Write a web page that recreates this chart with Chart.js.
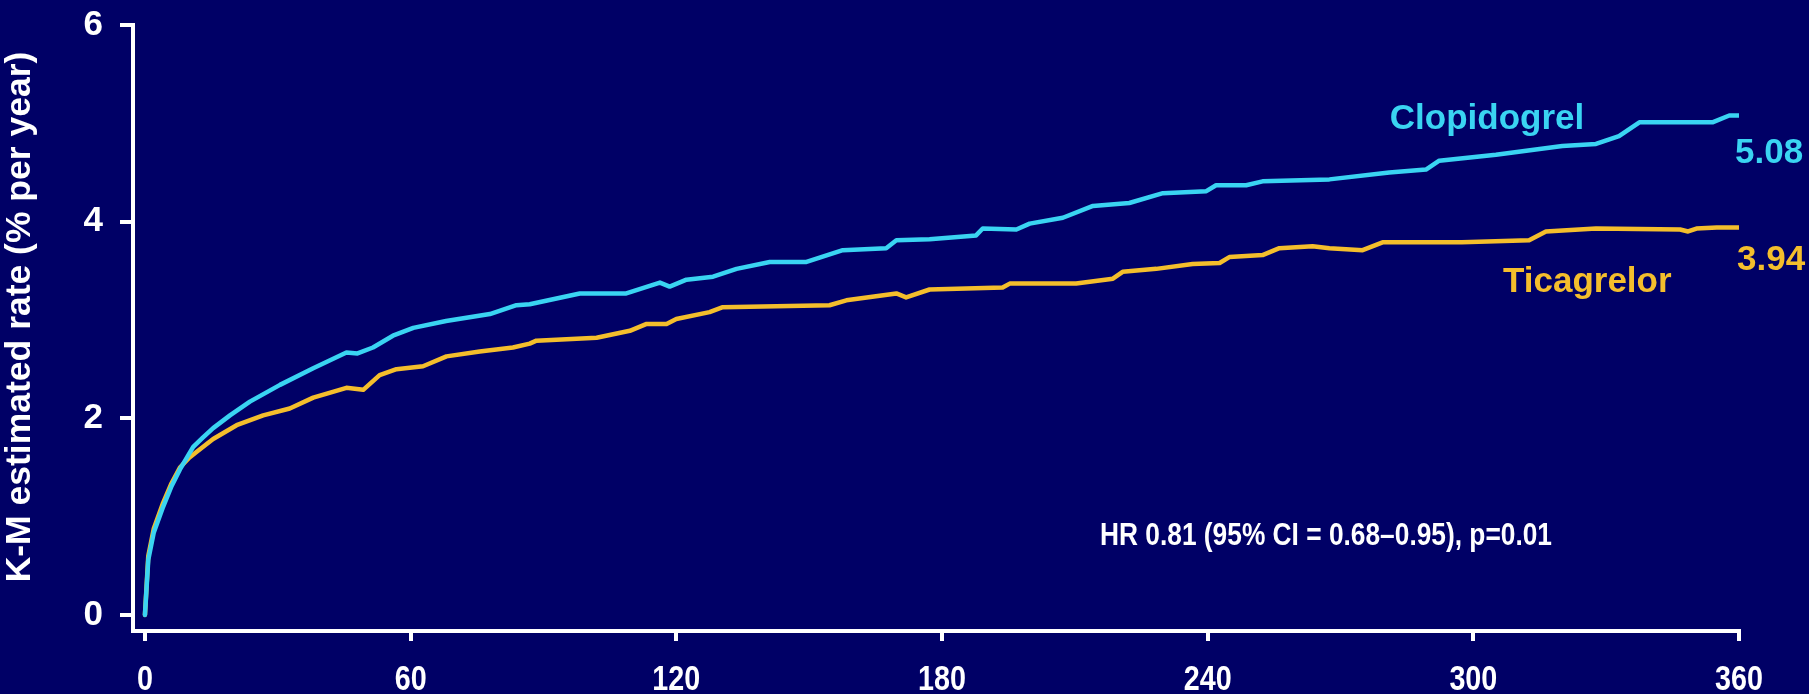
<!DOCTYPE html>
<html>
<head>
<meta charset="utf-8">
<script src="https://cdn.jsdelivr.net/npm/chart.js@4/dist/chart.umd.min.js"></script>
<style>
  html, body { margin: 0; padding: 0; background: #000066; }
  #wrap { width: 1809px; height: 694px; }
</style>
</head>
<body>
<div id="wrap"><canvas id="km" width="1809" height="694"></canvas></div>
<script>
// Kaplan–Meier estimated event rate, days since randomisation
const clopidogrelDays = [0, 0.75, 2, 4.1, 6, 7.9, 10.9, 13, 15.4, 19.2, 23.7, 30.5, 38, 45.5, 48, 51.5, 56, 60.6, 68, 77.9, 83.9, 86.9, 98.2, 108.7, 116.3, 118.5, 122.3, 128.3, 133.6, 141.1, 149.4, 157.6, 167.4, 169.7, 177.2, 187.7, 189.2, 196.8, 199.8, 207.3, 214.1, 222.3, 229.9, 239.7, 241.9, 248.7, 252.4, 267.5, 281, 289.3, 292.3, 305.1, 320.1, 327.7, 332.9, 337.5, 354, 357.8, 360];
const clopidogrelRate = [0, 0.56, 0.84, 1.10, 1.31, 1.48, 1.71, 1.80, 1.90, 2.03, 2.17, 2.34, 2.51, 2.67, 2.66, 2.72, 2.84, 2.92, 2.99, 3.06, 3.15, 3.16, 3.27, 3.27, 3.38, 3.34, 3.41, 3.44, 3.52, 3.59, 3.59, 3.71, 3.73, 3.81, 3.82, 3.86, 3.93, 3.92, 3.98, 4.04, 4.16, 4.19, 4.29, 4.31, 4.37, 4.37, 4.41, 4.43, 4.50, 4.53, 4.62, 4.68, 4.77, 4.79, 4.87, 5.01, 5.01, 5.08, 5.08];

const ticagrelorDays = [0, 0.75, 2, 4.1, 6, 7.9, 10, 11.7, 15.4, 20.7, 26.7, 32.7, 38, 45.5, 49.3, 53, 56.8, 62.8, 68.1, 75.6, 83.1, 86.9, 88.4, 102, 109.5, 113.3, 117.8, 120, 127.5, 130.5, 154.6, 158.4, 169.7, 171.9, 177.2, 193.7, 195.3, 210.3, 218.6, 220.8, 228.4, 236.6, 242.7, 244.9, 252.4, 256.2, 263.7, 267.5, 275, 279.5, 297.4, 312.6, 316.4, 327.7, 346.7, 348.5, 350.4, 355, 360];
const ticagrelorRate = [0, 0.60, 0.88, 1.14, 1.34, 1.50, 1.60, 1.66, 1.79, 1.93, 2.03, 2.10, 2.21, 2.31, 2.29, 2.44, 2.50, 2.53, 2.63, 2.68, 2.72, 2.76, 2.79, 2.82, 2.89, 2.96, 2.96, 3.01, 3.08, 3.13, 3.15, 3.20, 3.27, 3.23, 3.31, 3.33, 3.37, 3.37, 3.42, 3.49, 3.52, 3.57, 3.58, 3.64, 3.66, 3.73, 3.75, 3.73, 3.71, 3.79, 3.79, 3.81, 3.90, 3.93, 3.92, 3.90, 3.93, 3.94, 3.94];

const xTicks = [0, 60, 120, 180, 240, 300, 360];
const yTicks = [0, 2, 4, 6];
const seriesNames = ['Clopidogrel', 'Ticagrelor'];
const endValues = ['5.08', '3.94'];
const statsText = 'HR 0.81 (95% CI = 0.68\u20130.95), p=0.01';
const yTitle = 'K-M estimated rate (% per year)';

const CYAN = '#3ad4f2';
const GOLD = '#f4be2c';
const WHITE = '#ffffff';
const SANS = "'Liberation Sans', Arial, Helvetica, sans-serif";

const toPoints = (xs, ys) => xs.map((x, i) => ({ x: x, y: ys[i] }));

// condensed bold text, squeezed horizontally by factor sx
function narrowText(ctx, text, x, y, size, sx, align) {
  ctx.save();
  ctx.font = 'bold ' + size + 'px ' + SANS;
  ctx.textAlign = align;
  ctx.translate(x, y);
  ctx.scale(sx, 1);
  ctx.fillText(text, 0, 0);
  ctx.restore();
}

// day labels under the x axis, y-axis title, curve labels and the hazard-ratio note
const annotations = {
  id: 'annotations',
  afterDraw(chart) {
    const ctx = chart.ctx;
    const xs = chart.scales.x;
    ctx.save();
    ctx.textBaseline = 'alphabetic';

    ctx.fillStyle = WHITE;
    xTicks.forEach(v => narrowText(ctx, String(v), xs.getPixelForValue(v), 690, 35, 0.82, 'center'));

    ctx.save();
    ctx.font = 'bold 35.5px ' + SANS;
    ctx.textAlign = 'center';
    ctx.textBaseline = 'middle';
    ctx.translate(20, 317);
    ctx.rotate(-Math.PI / 2);
    ctx.fillText(yTitle, 0, 0);
    ctx.restore();

    ctx.font = 'bold 35px ' + SANS;
    ctx.fillStyle = CYAN;
    ctx.textAlign = 'center';
    ctx.fillText(seriesNames[0], 1487, 129);
    ctx.textAlign = 'left';
    ctx.fillText(endValues[0], 1735, 163);

    ctx.fillStyle = GOLD;
    ctx.fillText(seriesNames[1], 1503, 292);
    ctx.fillText(endValues[1], 1737, 270);

    ctx.fillStyle = WHITE;
    ctx.font = 'bold 31px ' + SANS;
    const w = ctx.measureText(statsText).width;
    narrowText(ctx, statsText, 1100, 545, 31, 452 / w, 'left');
    ctx.restore();
  }
};

new Chart(document.getElementById('km'), {
  type: 'line',
  data: {
    datasets: [
      {
        label: seriesNames[0],
        data: toPoints(clopidogrelDays, clopidogrelRate),
        borderColor: CYAN,
        borderWidth: 4.5,
        pointRadius: 0,
        tension: 0,
        borderJoinStyle: 'round',
        borderCapStyle: 'round'
      },
      {
        label: seriesNames[1],
        data: toPoints(ticagrelorDays, ticagrelorRate),
        borderColor: GOLD,
        borderWidth: 4.5,
        pointRadius: 0,
        tension: 0,
        borderJoinStyle: 'round',
        borderCapStyle: 'round'
      }
    ]
  },
  options: {
    responsive: false,
    animation: false,
    devicePixelRatio: 1,
    layout: { padding: { left: 0, top: 25, right: 70, bottom: 0 } },
    plugins: {
      legend: { display: false },
      tooltip: { enabled: false }
    },
    scales: {
      x: {
        type: 'linear',
        min: -2.7,
        max: 360,
        afterBuildTicks: (s) => { s.ticks = xTicks.map(v => ({ value: v })); },
        afterFit: (s) => { s.height = 63; s.paddingLeft = 0; s.paddingRight = 0; },
        grid: {
          drawOnChartArea: false,
          drawTicks: true,
          tickLength: 10,
          tickColor: WHITE,
          lineWidth: 4
        },
        border: { display: true, color: WHITE, width: 4 },
        ticks: { display: false }
      },
      y: {
        type: 'linear',
        min: -0.163,
        max: 6,
        afterBuildTicks: (s) => { s.ticks = yTicks.map(v => ({ value: v })); },
        afterFit: (s) => { s.width = 133; s.paddingTop = 0; s.paddingBottom = 0; },
        grid: {
          drawOnChartArea: false,
          drawTicks: true,
          tickLength: 13,
          tickColor: WHITE,
          lineWidth: 4
        },
        border: { display: true, color: WHITE, width: 4 },
        ticks: {
          color: WHITE,
          padding: 17,
          font: { family: SANS, size: 35, weight: 'bold' }
        }
      }
    }
  },
  plugins: [annotations]
});
</script>
</body>
</html>
